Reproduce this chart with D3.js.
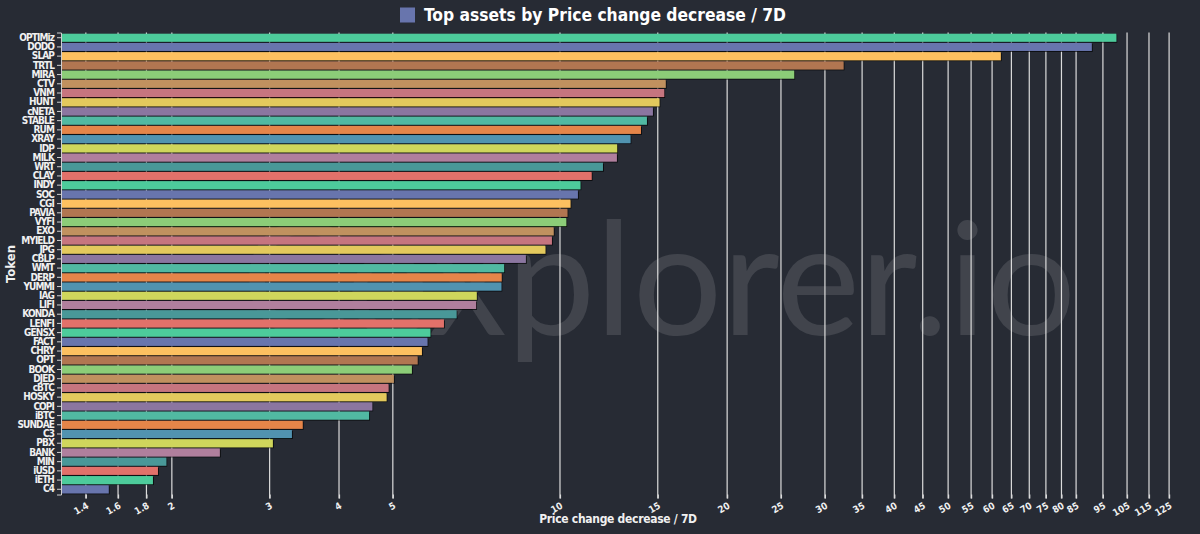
<!DOCTYPE html>
<html>
<head>
<meta charset="utf-8">
<script src="https://cdn.jsdelivr.net/npm/d3@7"></script>
<style>
  html, body { margin: 0; padding: 0; background: #272b34; }
  svg { display: block; font-family: "DejaVu Sans Condensed", "DejaVu Sans", sans-serif; }
</style>
</head>
<body>
<div id="chart"></div>
<script>
// tokens, top to bottom
const tokens = ["OPTIMiz", "DODO", "SLAP", "TRTL", "MIRA", "CTV", "VNM", "HUNT", "cNETA", "STABLE",
  "RUM", "XRAY", "IDP", "MILK", "WRT", "CLAY", "INDY", "SOC", "CGI", "PAVIA",
  "VYFI", "EXO", "MYIELD", "JPG", "CBLP", "WMT", "DERP", "YUMMI", "IAG", "LIFI",
  "KONDA", "LENFI", "GENSX", "FACT", "CHRY", "OPT", "BOOK", "DJED", "cBTC", "HOSKY",
  "COPI", "iBTC", "SUNDAE", "C3", "PBX", "BANK", "MIN", "iUSD", "iETH", "C4"]

// price change decrease / 7D (%)
const changes = [100.4, 90.7, 62.2, 32.4, 26.4, 15.5, 15.4, 15.1, 14.7, 14.34,
  13.99, 13.39, 12.67, 12.66, 11.95, 11.4, 10.88, 10.77, 10.44, 10.31,
  10.26, 9.74, 9.67, 9.41, 8.68, 7.93, 7.85, 7.84, 7.08, 7.06,
  6.51, 6.18, 5.84, 5.77, 5.64, 5.54, 5.41, 5.02, 4.91, 4.87,
  4.59, 4.53, 3.44, 3.29, 3.04, 2.44, 1.954, 1.888, 1.849, 1.539]

const palette = ["#4ecb9b", "#6875ad", "#fdc061", "#b17651", "#8ccd78", "#c0915f", "#c6747f", "#e3c95d",
  "#8b76a0", "#51b9a2", "#e5854a", "#5193b0", "#cfd65b", "#b07f9d", "#4a9898", "#e2716a"]

const xTicks = [1.4, 1.6, 1.8, 2, 3, 4, 5, 10, 15, 20, 25, 30, 35, 40, 45, 50, 55, 60, 65, 70, 75, 80, 85, 95, 105, 115, 125]

const title = "Top assets by Price change decrease / 7D"

const width = 1200, height = 534
const margin = { top: 32.5, right: 25, bottom: 39.5, left: 61 }

const svg = d3.select('#chart')
  .append('svg')
  .attr('width', width)
  .attr('height', height)

svg.append('rect').attr('width', width).attr('height', height).attr('fill', '#272b34')

const defs = svg.append('defs')
const shadow = defs.append('filter').attr('id', 'shadow')
  .attr('x', '-5%').attr('y', '-40%').attr('width', '110%').attr('height', '180%')
shadow.append('feDropShadow')
  .attr('dx', 1).attr('dy', 1).attr('stdDeviation', 0.6)
  .attr('flood-color', '#000').attr('flood-opacity', 0.7)

const x = d3.scaleLog()
  .domain([1.263, 128.1])
  .range([margin.left, width - margin.right])

const y = d3.scaleBand()
  .domain(tokens)
  .range([margin.top, height - margin.bottom])
  .padding(0.13)

// watermark
svg.append('text')
  .attr('x', 1076)
  .attr('y', 335)
  .attr('text-anchor', 'end')
  .style('font-family', 'Lato, "Open Sans", sans-serif')
  .style('font-size', '158px')
  .style('fill', '#ffffff')
  .style('fill-opacity', 0.12)
  .text('Cexplorer.io')

// grid lines
svg.append('g')
  .selectAll('line')
  .data(xTicks)
  .join('line')
    .attr('x1', d => x(d))
    .attr('x2', d => x(d))
    .attr('y1', margin.top)
    .attr('y2', height - margin.bottom + 4)
    .attr('stroke', '#dcdcdc')
    .attr('stroke-width', 1.2)

// bars
svg.append('g')
  .selectAll('rect')
  .data(tokens)
  .join('rect')
    .attr('x', x.range()[0])
    .attr('y', d => y(d))
    .attr('width', (d, i) => x(changes[i]) - x.range()[0])
    .attr('height', y.bandwidth())
    .attr('fill', (d, i) => palette[i % palette.length])
    .attr('filter', 'url(#shadow)')

// y axis
const yAxis = svg.append('g')
  .attr('transform', `translate(${margin.left},0)`)
  .call(d3.axisLeft(y).tickSize(4).tickPadding(3))
yAxis.select('.domain').attr('stroke', '#cfcfcf')
yAxis.selectAll('.tick line').attr('stroke', '#cfcfcf')
yAxis.selectAll('.tick text')
  .style('font-family', '"DejaVu Sans Condensed", sans-serif')
  .style('font-size', '10px')
  .style('font-weight', 'bold')
  .style('letter-spacing', '-0.9px')
  .style('fill', '#f0f0f0')

// x axis
const xAxis = svg.append('g')
  .attr('transform', `translate(0,${height - margin.bottom})`)
  .call(d3.axisBottom(x).tickValues(xTicks).tickFormat(d3.format('')).tickSize(4))
xAxis.select('.domain').remove()
xAxis.selectAll('.tick line').attr('stroke', '#dcdcdc').attr('stroke-width', 1.2)
xAxis.selectAll('.tick text')
  .attr('text-anchor', 'end')
  .attr('dy', null)
  .attr('y', 0)
  .attr('transform', 'translate(3,13) rotate(-30)')
  .style('font-family', '"DejaVu Sans Condensed", sans-serif')
  .style('font-size', '9.5px')
  .style('font-weight', 'bold')
  .style('fill', '#f0f0f0')

// axis titles
svg.append('text')
  .attr('x', (margin.left + width - margin.right) / 2)
  .attr('y', 523)
  .attr('text-anchor', 'middle')
  .style('font-size', '12px')
  .style('font-weight', 'bold')
  .style('letter-spacing', '-0.3px')
  .style('fill', '#f0f0f0')
  .text('Price change decrease / 7D')

svg.append('text')
  .attr('transform', 'translate(15,264) rotate(-90)')
  .attr('text-anchor', 'middle')
  .style('font-size', '13px')
  .style('font-weight', 'bold')
  .style('fill', '#f0f0f0')
  .text('Token')

// title with legend square
svg.append('rect')
  .attr('x', 400).attr('y', 7.5)
  .attr('width', 15).attr('height', 15)
  .attr('fill', palette[1])

svg.append('text')
  .attr('x', 424)
  .attr('y', 21)
  .style('font-size', '17.3px')
  .style('font-weight', 'bold')
  .style('fill', '#ffffff')
  .text(title)
</script>
</body>
</html>
